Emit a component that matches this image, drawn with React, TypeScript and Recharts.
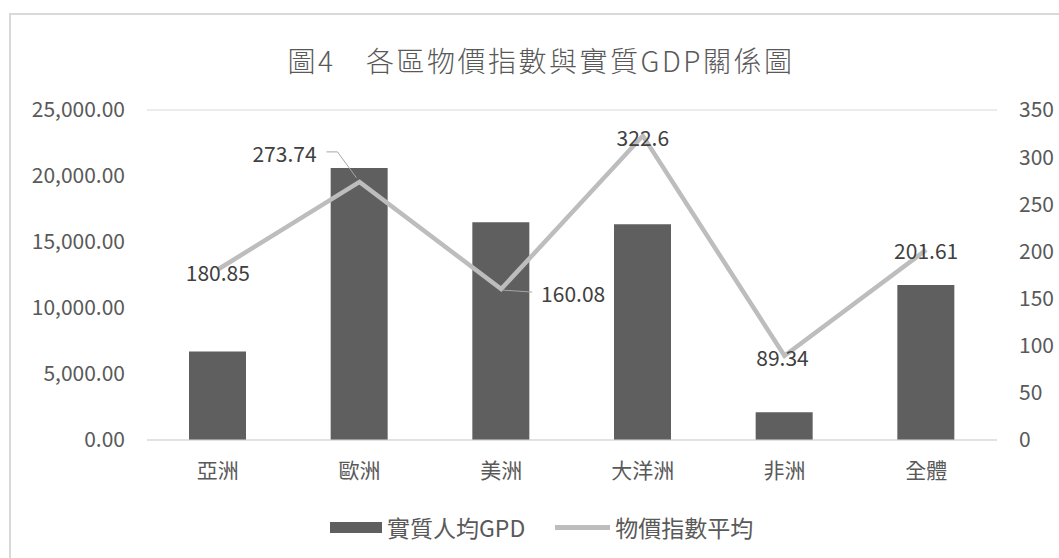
import React from 'react';
import { ComposedChart, Bar, Line, XAxis, YAxis, CartesianGrid, LabelList } from 'recharts';

const regions = ['亞洲', '歐洲', '美洲', '大洋洲', '非洲', '全體'];
const realGdp = [6700, 20600, 16500, 16350, 2100, 11750];
const priceIndex = [180.85, 273.74, 160.08, 322.6, 89.34, 201.61];
const gdpTicks = [0, 5000, 10000, 15000, 20000, 25000];
const indexTicks = [0, 50, 100, 150, 200, 250, 300, 350];

const FONT = '"Noto Sans CJK TC", "Noto Sans", sans-serif';
const BAR_COLOR = '#5f5f5f';
const LINE_COLOR = '#bdbdbd';
const TEXT_COLOR = '#595959';

// label placement per point (Excel moved two of them aside with a leader line)
const labelShift = [
  { dx: 0, dy: 3 },
  { dx: -75, dy: -29 },
  { dx: 72, dy: 4 },
  { dx: 0, dy: 1 },
  { dx: -2, dy: 1 },
  { dx: 0, dy: 0 },
];

const data = regions.map((name, i) => ({ name, gdp: realGdp[i], idx: priceIndex[i] }));

const fmtGdp = (v: number) =>
  v.toLocaleString('en-US', { minimumFractionDigits: 2, maximumFractionDigits: 2 });

const PointLabel = (props: any) => {
  const { x, y, value, index } = props;
  const s = labelShift[index] || { dx: 0, dy: 0 };
  let leader: React.ReactNode = null;
  if (index === 1) {
    leader = (
      <polyline
        points={`${x - 33},${y - 30} ${x - 22},${y - 30} ${x - 3},${y - 4}`}
        fill="none"
        stroke="#a6a6a6"
        strokeWidth={1}
      />
    );
  } else if (index === 2) {
    leader = (
      <polyline points={`${x + 1},${y + 1} ${x + 31},${y + 3}`} fill="none" stroke="#a6a6a6" strokeWidth={1} />
    );
  }
  return (
    <g>
      {leader}
      <text
        x={x + s.dx}
        y={y + s.dy}
        textAnchor="middle"
        dominantBaseline="central"
        fontFamily={FONT}
        fontSize={21}
        fill="#404040"
      >
        {value}
      </text>
    </g>
  );
};

const App: React.FC = () => {
  return (
    <div style={{ position: 'absolute', left: 0, top: 0, width: 1059, height: 558, background: '#fff', overflow: 'hidden' }}>
      <div
        style={{
          position: 'absolute',
          left: 9,
          top: 13,
          width: 1100,
          height: 600,
          borderLeft: '2px solid #d9d9d9',
          borderTop: '2px solid #d9d9d9',
        }}
      />
      <div
        style={{
          position: 'absolute',
          left: 0,
          top: 41,
          width: 1082,
          textAlign: 'center',
          fontFamily: FONT,
          fontWeight: 300,
          fontSize: 28,
          letterSpacing: 2.5,
          lineHeight: '38px',
          color: TEXT_COLOR,
          whiteSpace: 'pre',
        }}
      >
        {'圖4　各區物價指數與實質GDP關係圖'}
      </div>
      <div style={{ position: 'absolute', left: 0, top: 0 }}>
        <ComposedChart
          width={1059}
          height={558}
          data={data}
          margin={{ top: 110, right: 0, bottom: 78, left: 0 }}
          barSize={57}
        >
          <CartesianGrid vertical={false} stroke="#d9d9d9" />
          <XAxis
            dataKey="name"
            height={40}
            axisLine={{ stroke: '#d9d9d9' }}
            tickLine={false}
            tickSize={0}
            tickMargin={23}
            tick={{ fill: TEXT_COLOR, fontSize: 21, fontFamily: FONT }}
          />
          <YAxis
            yAxisId="left"
            width={147}
            domain={[0, 25000]}
            ticks={gdpTicks}
            tickFormatter={fmtGdp}
            axisLine={false}
            tickLine={false}
            tickSize={0}
            tickMargin={22}
            tick={{ fill: TEXT_COLOR, fontSize: 21, fontFamily: FONT }}
          />
          <YAxis
            yAxisId="right"
            orientation="right"
            width={62}
            domain={[0, 350]}
            ticks={indexTicks}
            axisLine={false}
            tickLine={false}
            tickSize={0}
            tickMargin={22}
            tick={{ fill: TEXT_COLOR, fontSize: 21, fontFamily: FONT, textAnchor: 'start' }}
          />
          <Bar yAxisId="left" dataKey="gdp" fill={BAR_COLOR} isAnimationActive={false} />
          <Line
            yAxisId="right"
            dataKey="idx"
            stroke={LINE_COLOR}
            strokeWidth={4.5}
            dot={false}
            activeDot={false}
            isAnimationActive={false}
          >
            <LabelList dataKey="idx" content={PointLabel} />
          </Line>
        </ComposedChart>
      </div>
      <div
        style={{
          position: 'absolute',
          left: 330,
          top: 512,
          display: 'flex',
          alignItems: 'center',
          fontFamily: FONT,
          fontSize: 23,
          color: TEXT_COLOR,
          lineHeight: '30px',
        }}
      >
        <span style={{ display: 'inline-block', width: 52, height: 11, background: BAR_COLOR }} />
        <span style={{ marginLeft: 5 }}>實質人均GPD</span>
        <span style={{ display: 'inline-block', width: 55, height: 5, background: LINE_COLOR, marginLeft: 30 }} />
        <span style={{ marginLeft: 5 }}>物價指數平均</span>
      </div>
    </div>
  );
};

export default App;
